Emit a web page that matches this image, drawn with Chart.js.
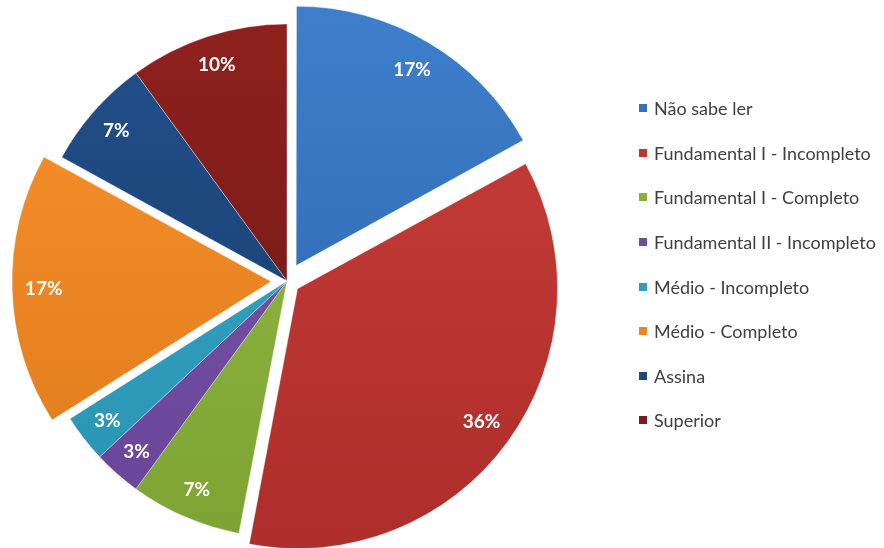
<!DOCTYPE html>
<html lang="pt">
<head>
<meta charset="utf-8">
<script src="https://cdn.jsdelivr.net/npm/chart.js@4.4.1/dist/chart.umd.min.js"></script>
<style>
  html, body { margin: 0; padding: 0; background: #fff; }
  #wrap { position: relative; width: 884px; height: 548px; overflow: hidden; }
  #legend {
    position: absolute; left: 639px; top: 86px;
    list-style: none; margin: 0; padding: 0;
    font-family: Lato, "Open Sans", sans-serif; font-size: 18px; color: #404040;
  }
  #legend li { height: 44.6px; display: flex; align-items: center; white-space: nowrap; }
  #legend .sw { width: 8px; height: 8px; margin-right: 7px; flex: none; }
</style>
</head>
<body>
<div id="wrap">
  <canvas id="pie" width="884" height="548"></canvas>
  <ul id="legend"></ul>
</div>
<script>
const categories = [
  'Não sabe ler',
  'Fundamental I - Incompleto',
  'Fundamental I - Completo',
  'Fundamental II - Incompleto',
  'Médio - Incompleto',
  'Médio - Completo',
  'Assina',
  'Superior'
];
const shares = [17, 36, 7, 3, 3, 17, 7, 10];

// light (top) / dark (bottom) shade of each slice
const topColors = ['#3e7ecb', '#c93d38', '#93bd44', '#7a55a7', '#36a8c8', '#f8922c', '#21508a', '#8e211e'];
const bottomColors = ['#2d65ab', '#ad2e2b', '#7ea334', '#69459a', '#2a92b2', '#df7a1c', '#183c6b', '#6d1714'];
const midColors = ['#3571bc', '#bd3632', '#88b03c', '#714da0', '#309dbd', '#ec8624', '#1d467a', '#7e1c19'];

// pulled-out slices (Chart.js moves an arc by offset / 4)
const sliceOffsets = [72, 52, 0, 0, 0, 64, 0, 0];

const CX = 287, CY = 281, R = 257;

function shade(context) {
  const i = context.dataIndex;
  const g = context.chart.ctx.createLinearGradient(0, CY - R, 0, CY + R);
  g.addColorStop(0, topColors[i]);
  g.addColorStop(1, bottomColors[i]);
  return g;
}

const pctLabels = {
  id: 'pctLabels',
  afterDatasetsDraw(chart) {
    const ctx = chart.ctx;
    const meta = chart.getDatasetMeta(0);
    ctx.save();
    ctx.font = 'bold 19px Lato, "Open Sans", sans-serif';
    ctx.fillStyle = '#ffffff';
    ctx.textAlign = 'center';
    ctx.textBaseline = 'middle';
    meta.data.forEach((arc, i) => {
      const p = arc.getProps(['x', 'y', 'startAngle', 'endAngle', 'outerRadius'], true);
      const mid = (p.startAngle + p.endAngle) / 2;
      const r = p.outerRadius * 0.885 + (arc.options.offset || 0) / 4;
      ctx.fillText(shares[i] + '%', p.x + Math.cos(mid) * r, p.y + Math.sin(mid) * r);
    });
    ctx.restore();
  }
};

new Chart(document.getElementById('pie'), {
  type: 'pie',
  data: {
    labels: categories,
    datasets: [{
      data: shares,
      backgroundColor: shade,
      borderColor: 'rgba(255,255,255,0.35)',
      borderWidth: 1,
      offset: sliceOffsets,
      clip: false
    }]
  },
  options: {
    responsive: false,
    animation: false,
    radius: R,
    layout: { padding: { left: 0, right: 884 - 2 * CX, top: 2 * CY - 548, bottom: 0 } },
    plugins: { legend: { display: false }, tooltip: { enabled: false } }
  },
  plugins: [pctLabels]
});

const legendEl = document.getElementById('legend');
categories.forEach((name, i) => {
  const li = document.createElement('li');
  li.innerHTML = `<span class="sw" style="background:${midColors[i]}"></span><span>${name}</span>`;
  legendEl.appendChild(li);
});
</script>
</body>
</html>
